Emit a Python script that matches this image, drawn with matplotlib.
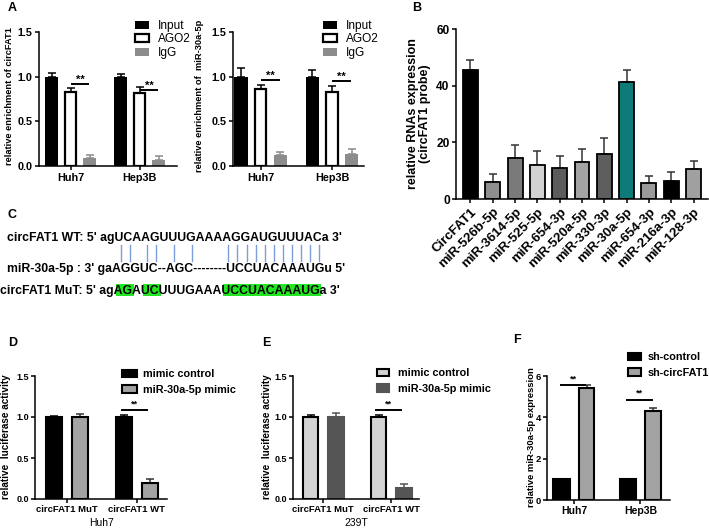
import numpy as np
import matplotlib
matplotlib.use('Agg')
import matplotlib.pyplot as plt
from matplotlib.patches import Patch, Rectangle
from matplotlib.lines import Line2D
from matplotlib.font_manager import FontProperties, findfont
from matplotlib import ft2font

plt.rcParams['font.family'] = ['Liberation Sans', 'DejaVu Sans']
plt.rcParams['font.weight'] = 'bold'

W, H = 709, 530

# ---- data ----
a_groups = ['Huh7', 'Hep3B']
a_series = ['Input', 'AGO2', 'IgG']
a1_input = [1.00, 1.00]
a1_input_err = [0.04, 0.03]
a1_ago2 = [0.83, 0.82]
a1_ago2_err = [0.04, 0.065]
a1_igg = [0.09, 0.07]
a1_igg_err = [0.035, 0.045]
a1_sig = [0.92, 0.85]

a2_input = [1.00, 1.00]
a2_input_err = [0.10, 0.07]
a2_ago2 = [0.86, 0.83]
a2_ago2_err = [0.05, 0.06]
a2_igg = [0.12, 0.13]
a2_igg_err = [0.04, 0.06]
a2_sig = [0.96, 0.95]

b_labels = ['CircFAT1', 'miR-526b-5p', 'miR-3614-5p', 'miR-525-5p', 'miR-654-3p',
            'miR-520a-5p', 'miR-330-3p', 'miR-30a-5p', 'miR-654-3p', 'miR-216a-3p',
            'miR-128-3p']
b_values = [45.6, 6.0, 14.6, 12.0, 11.0, 13.0, 15.9, 41.3, 5.5, 6.4, 10.6]
b_err = [3.3, 3.0, 4.4, 4.8, 4.3, 4.8, 5.5, 4.3, 2.5, 3.3, 2.9]
b_colors = ['#000000', '#8f8f8f', '#7a7a7a', '#d2d2d2', '#5c5c5c', '#a3a3a3',
            '#5e5e5e', '#0f7b78', '#9a9a9a', '#000000', '#a0a0a0']

c_wt = "circFAT1 WT: 5' agUCAAGUUUGAAAAGGAUGUUUACa 3'"
c_wt_seq_start = len("circFAT1 WT: 5' ag")
c_mir = "miR-30a-5p : 3' gaAGGUC--AGC--------UCCUACAAAUGu 5'"
c_pairs = [0, 1, 3, 4, 6, 8, 12, 13, 14, 15, 16, 17, 18, 19, 20, 21, 22]
c_mut = "circFAT1 MuT: 5' agAGAUCUUUGAAAUCCUACAAAUGa 3'"
c_mut_green = [(19, 21), (22, 24), (31, 42)]

luc_groups = ['circFAT1 MuT', 'circFAT1 WT']
d_ctrl = [1.00, 1.00]
d_ctrl_err = [0.015, 0.03]
d_mimic = [1.00, 0.19]
d_mimic_err = [0.035, 0.06]
d_sig = 1.085

e_ctrl = [1.00, 1.00]
e_ctrl_err = [0.02, 0.03]
e_mimic = [1.00, 0.13]
e_mimic_err = [0.045, 0.055]
e_sig = 1.085

f_groups = ['Huh7', 'Hep3B']
f_ctrl = [1.00, 1.00]
f_ctrl_err = [0.03, 0.03]
f_sh = [5.42, 4.31]
f_sh_err = [0.16, 0.16]
f_sig = [5.55, 4.86]

fig = plt.figure(figsize=(W / 100, H / 100), dpi=100)


def px_axes(l, r, top, bottom):
    return fig.add_axes([l / W, 1 - bottom / H, (r - l) / W, (bottom - top) / H])


def style(ax, tick_fs):
    for s in ['top', 'right']:
        ax.spines[s].set_visible(False)
    for s in ['left', 'bottom']:
        ax.spines[s].set_linewidth(1.1)
    ax.tick_params(direction='out', length=3, width=1.1, labelsize=tick_fs, pad=1.5)


def bar_err(ax, x, vals, errs, width, fc, ec, lw, errc):
    ax.bar(x, vals, width, color=fc, edgecolor=ec, linewidth=lw, zorder=2)
    ax.errorbar(x, vals, yerr=[np.zeros(len(vals)), errs], fmt='none', ecolor=errc,
                elinewidth=1.1, capsize=3, capthick=1.1, zorder=1)


def sig(ax, x0, x1, y, fs, dy):
    ax.plot([x0, x1], [y, y], color='black', lw=1.4, clip_on=False)
    ax.text((x0 + x1) / 2, y + dy, '**', ha='center', va='bottom', fontsize=fs)


def ftext(x, y, s, **kw):
    return fig.text(x / W, 1 - y / H, s, **kw)


# ---- panel A ----
g = np.arange(len(a_groups))
for (l, r, lim, ylab, ylab_x, vals, leg_x) in [
        (39, 177, (-0.46, 1.54), 'relative enrichment of circFAT1', 10,
         (a1_input, a1_input_err, a1_ago2, a1_ago2_err, a1_igg, a1_igg_err, a1_sig), 129),
        (233, 364, (-0.39, 1.45), 'relative enrichment of  miR-30a-5p', 200,
         (a2_input, a2_input_err, a2_ago2, a2_ago2_err, a2_igg, a2_igg_err, a2_sig), 317)]:
    ax = px_axes(l, r, 32, 166)
    inp, inp_e, ago, ago_e, igg, igg_e, sg = vals
    bw = 0.19
    bar_err(ax, g - 0.275, inp, inp_e, bw, 'black', 'black', 0, 'black')
    bar_err(ax, g, ago, ago_e, bw - 0.03, 'white', 'black', 1.6, 'black')
    bar_err(ax, g + 0.275, igg, igg_e, bw, '#8c8c8c', '#8c8c8c', 0, '#8c8c8c')
    for i in range(len(g)):
        sig(ax, g[i] + 0.02, g[i] + 0.25, sg[i], 8, -0.01)
    ax.set_xlim(*lim)
    ax.set_ylim(0, 1.5)
    ax.set_yticks([0, 0.5, 1.0, 1.5])
    ax.set_xticks(g)
    ax.set_xticklabels(a_groups)
    style(ax, 7.8)
    ax.tick_params(axis='x', labelsize=7.8, pad=2)
    ftext(ylab_x, 96, ylab, rotation=90, ha='center', va='center', fontsize=6.7)
    handles = [Patch(fc='black', ec='black', lw=0),
               Patch(fc='white', ec='black', lw=1.6),
               Patch(fc='#8c8c8c', ec='#8c8c8c', lw=0)]
    fig.legend(handles, a_series, loc='upper left', bbox_to_anchor=(leg_x / W, 1 - 14 / H),
               frameon=False, borderpad=0, handlelength=1.2, handleheight=0.65,
               handletextpad=0.7, labelspacing=0.12,
               prop=FontProperties(family='Liberation Sans', weight='normal', size=8.6))

ftext(8, 8, 'A', fontsize=9, va='center', ha='left')

# ---- panel B ----
ax = px_axes(456, 708, 29, 199)
xb = np.arange(len(b_labels))
ax.bar(xb, b_values, 0.67, color=b_colors, edgecolor='black', linewidth=1.3, zorder=2)
ax.errorbar(xb, b_values, yerr=[np.zeros(len(b_values)), b_err], fmt='none',
            ecolor='#333333', elinewidth=1.1, capsize=3, capthick=1.1, zorder=1)
ax.set_xlim(-0.65, 10.65)
ax.set_ylim(0, 60)
ax.set_yticks([0, 20, 40, 60])
ax.set_xticks(xb)
ax.set_xticklabels(b_labels, rotation=45, ha='right', rotation_mode='anchor')
style(ax, 8.6)
ax.tick_params(axis='x', labelsize=9.5, pad=2)
ftext(419, 114, 'relative RNAs expression\n(circFAT1 probe)', rotation=90,
      ha='center', va='center', fontsize=9, linespacing=1.05)
ftext(412, 8, 'B', fontsize=9, va='center', ha='left')

# ---- panel C ----
ftext(8, 215, 'C', fontsize=9, va='center', ha='left')
c_prop = FontProperties(family='Liberation Sans', weight='bold')
ft = ft2font.FT2Font(findfont(c_prop))


def glyph_metrics(s, size):
    ft.set_size(size, 100)
    adv = [ft.load_char(ord(ch)).linearHoriAdvance / 65536 for ch in s]
    bear0 = ft.load_char(ord(s[0])).horiBearingX / 64
    return np.array(adv), bear0


c_fs = 10 * 335 / glyph_metrics(c_wt, 10)[0].sum()
fp = FontProperties(family='Liberation Sans', weight='bold', size=c_fs)


def draw_seq(s, x0, y, green=()):
    # whole string as one text; character centres from the font's advances
    adv, bear0 = glyph_metrics(s, c_fs)
    starts = x0 - bear0 + np.concatenate([[0], np.cumsum(adv)[:-1]])
    for a, b in green:
        fig.add_artist(Rectangle((starts[a] / W, 1 - (y + 1.5) / H),
                                 (starts[b - 1] + adv[b - 1] - starts[a]) / W, 11.5 / H,
                                 transform=fig.transFigure, fc='#22e622', ec='none'))
    ftext(x0, y, s, fontproperties=fp, ha='left', va='baseline')
    return starts + adv / 2


wt_centers = draw_seq(c_wt, 7, 241)
draw_seq(c_mir, 7, 272)
draw_seq(c_mut, 0.5, 294, c_mut_green)
for i in c_pairs:
    xc = wt_centers[c_wt_seq_start + i]
    fig.add_artist(Line2D([xc / W, xc / W], [1 - 245 / H, 1 - 261 / H],
                          transform=fig.transFigure, color='#7b9fd8', lw=1.0))

# ---- panels D, E ----
leg_prop = FontProperties(family='Liberation Sans', weight='bold', size=7.8)
for (l, r, lim, cc, mc, c_ec, m_ec, m_errc, vals, letter, letter_x, ylab_x, xlab, leg) in [
        (35, 167, (-0.457, 1.43), 'black', '#a3a3a3', 'black', 'black', '#333333',
         (d_ctrl, d_ctrl_err, d_mimic, d_mimic_err, d_sig), 'D', 8, 6, 'Huh7',
         (117, 364, 1.39, 0.55)),
        (293, 419, (-0.445, 1.41), '#d3d3d3', '#555555', 'black', '#555555', '#555555',
         (e_ctrl, e_ctrl_err, e_mimic, e_mimic_err, e_sig), 'E', 262, 267, '239T',
         (372, 363, 1.1, 0.83))]:
    ax = px_axes(l, r, 376, 499)
    c, ce, m, me, sg = vals
    bar_err(ax, g - 0.185, c, ce, 0.23, cc, c_ec, 1.5, 'black')
    bar_err(ax, g + 0.185, m, me, 0.23, mc, m_ec, 1.5, m_errc)
    sig(ax, g[1] - 0.22, g[1] + 0.15, sg, 6.5, 0.02)
    ax.set_xlim(*lim)
    ax.set_ylim(0, 1.5)
    ax.set_yticks([0, 0.5, 1.0, 1.5])
    ax.set_xticks(g)
    ax.set_xticklabels(luc_groups)
    style(ax, 6.5)
    ax.tick_params(axis='x', labelsize=6.8, pad=1.5)
    ax.set_xlabel(xlab, fontsize=7.5, labelpad=3)
    ftext(ylab_x, 437, 'relative  luciferase activity', rotation=90, ha='center',
          va='center', fontsize=7.2)
    ftext(letter_x, 343, letter, fontsize=9, va='center', ha='left')
    handles = [Patch(fc=cc, ec=c_ec, lw=1.5), Patch(fc=mc, ec=m_ec, lw=1.5)]
    fig.legend(handles, ['mimic control', 'miR-30a-5p mimic'], loc='upper left',
               bbox_to_anchor=(leg[0] / W, 1 - leg[1] / H), frameon=False, borderpad=0,
               handlelength=leg[2], handleheight=0.7, handletextpad=leg[3],
               labelspacing=0.5, prop=leg_prop)

# ---- panel F ----
ax = px_axes(547, 670, 376, 500)
bar_err(ax, g - 0.19, f_ctrl, f_ctrl_err, 0.25, 'black', 'black', 1.5, 'black')
bar_err(ax, g + 0.19, f_sh, f_sh_err, 0.23, '#a3a3a3', 'black', 1.5, '#333333')
for i in range(len(g)):
    sig(ax, g[i] - 0.2, g[i] + 0.17, f_sig[i], 6.5, 0.08)
ax.set_xlim(-0.41, 1.445)
ax.set_ylim(0, 6)
ax.set_yticks([0, 2, 4, 6])
ax.set_xticks(g)
ax.set_xticklabels(f_groups)
style(ax, 6.8)
ax.tick_params(axis='x', labelsize=7.5, pad=1.5)
ftext(532, 437, 'relative miR-30a-5p expression', rotation=90, ha='center',
      va='center', fontsize=6.8)
ftext(513, 340, 'F', fontsize=9, va='center', ha='left')
handles = [Patch(fc='black', ec='black', lw=1.5), Patch(fc='#a3a3a3', ec='black', lw=1.5)]
fig.legend(handles, ['sh-control', 'sh-circFAT1'], loc='upper left',
           bbox_to_anchor=(623 / W, 1 - 347 / H), frameon=False, borderpad=0,
           handlelength=1.2, handleheight=0.7, handletextpad=0.6, labelspacing=0.5,
           prop=leg_prop)

fig.savefig('out.png', dpi=100)
